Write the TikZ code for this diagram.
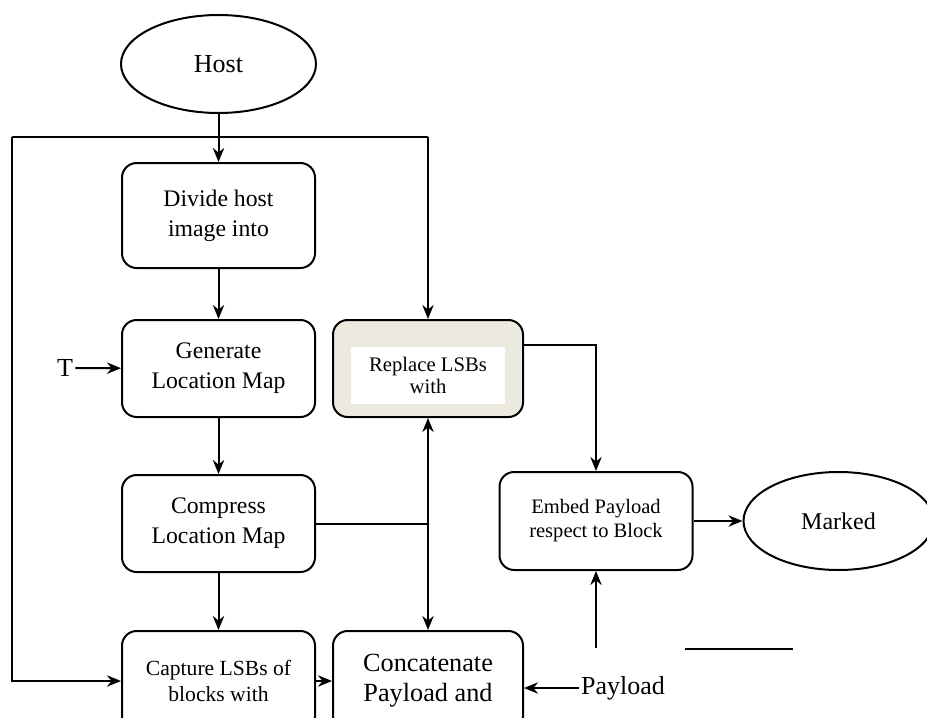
\documentclass[tikz,border=0pt]{standalone}
\usepackage{fontspec}
\setmainfont{Liberation Serif}
\usetikzlibrary{arrows.meta,positioning,shapes.geometric}
\definecolor{replacefill}{HTML}{ECEADF}
\tikzset{procbox/.style={
    % The shape:
    rectangle,
    rounded corners=11pt,
    % The size:
    minimum width=144.75pt,
    minimum height=72.75pt,
    % The border:
    line width=1.5pt,
    draw=black,
    % Font
    align=center,
    font=\fontsize{17.8}{22.5}\selectfont
    },
    imageoval/.style={
    ellipse,
    minimum width=146.25pt,
    minimum height=73.5pt,
    inner sep=0pt,
    line width=1.5pt,
    draw=black,
    font=\fontsize{19.5}{23}\selectfont
    },
    plainlabel/.style={
    inner sep=1pt,
    font=\fontsize{19.5}{23}\selectfont
    },
}

\begin{document}
\begin{tikzpicture}[x=0.75pt,y=-0.75pt,line width=1.5pt,
    >={Stealth[length=10.5pt,width=8.5pt]}]
    \useasboundingbox (0,0) rectangle (927,717);
    \clip (0,0) rectangle (927,717);

    \node (host)     [imageoval] at (218.5,64) {Host};
    \node (divide)   [procbox,minimum height=78.75pt] at (218.5,215.5) {Divide host\\image into};
    \node (generate) [procbox,below=37.5pt of divide]  {Generate\\Location Map};
    \node (compress) [procbox,below=42pt of generate]  {Compress\\Location Map};
    \node (capture)  [procbox,below=42.75pt of compress,minimum height=75pt,
                      font=\fontsize{16.2}{19.5}\selectfont] {Capture LSBs of\\blocks with};

    \node (replace)  [procbox,fill=replacefill,minimum width=142.5pt,right=12pt of generate] {};
    \node (replacetxt) [fill=white,minimum width=115.5pt,minimum height=42.75pt,inner sep=0pt,
                      align=center,font=\fontsize{15.5}{17}\selectfont,
                      below=20.25pt of replace.north] {Replace LSBs\\with};
    \node (concat)   [procbox,minimum width=142.5pt,minimum height=75pt,right=12pt of capture,
                      font=\fontsize{19.7}{22.5}\selectfont] {Concatenate\\Payload and};

    \node (embed)    [procbox,minimum height=73.5pt,font=\fontsize{15.4}{18}\selectfont]
                     at (596,521) {Embed Payload\\respect to Block};
    \node (marked)   [imageoval,minimum width=142.5pt,right=36.75pt of embed,
                      font=\fontsize{18}{22}\selectfont] {Marked};

    \node (tlabel)   [plainlabel] at (65,368) {T};
    \node (payload)  [plainlabel] at (623,688) {Payload};

    \coordinate (topL) at (12,137);
    \coordinate (topR) at (replace.north |- topL);
    \coordinate (split) at (replace.south |- compress.east);
    \coordinate (embedin) at (embed.south |- 0,648);
    \coordinate (barL) at (685,649);
    \coordinate (barR) at (793,649);

    \draw[->] (host) -- (divide);
    \draw (topL) -- (topR);
    \draw[->] (topR) -- (replace);
    \draw[->] (topL) |- (capture.west);
    \draw[->] (divide) -- (generate);
    \draw[->] (tlabel) -- (generate);
    \draw[->] (generate) -- (compress);
    \draw[->] (compress) -- (capture);
    \draw (compress.east) -- (split);
    \draw[->] (split) -- (replace.south);
    \draw[->] (split) -- (concat.north);
    \draw[->] (capture) -- (concat);
    \draw[->] (payload.west) -- (payload.west -| concat.east);
    \draw[->] ([yshift=18pt]replace.east) -| (embed.north);
    \draw[->] (embedin) -- (embed.south);
    \draw (barL) -- (barR);
    \draw[->] (embed) -- (marked);
\end{tikzpicture}
\end{document}
